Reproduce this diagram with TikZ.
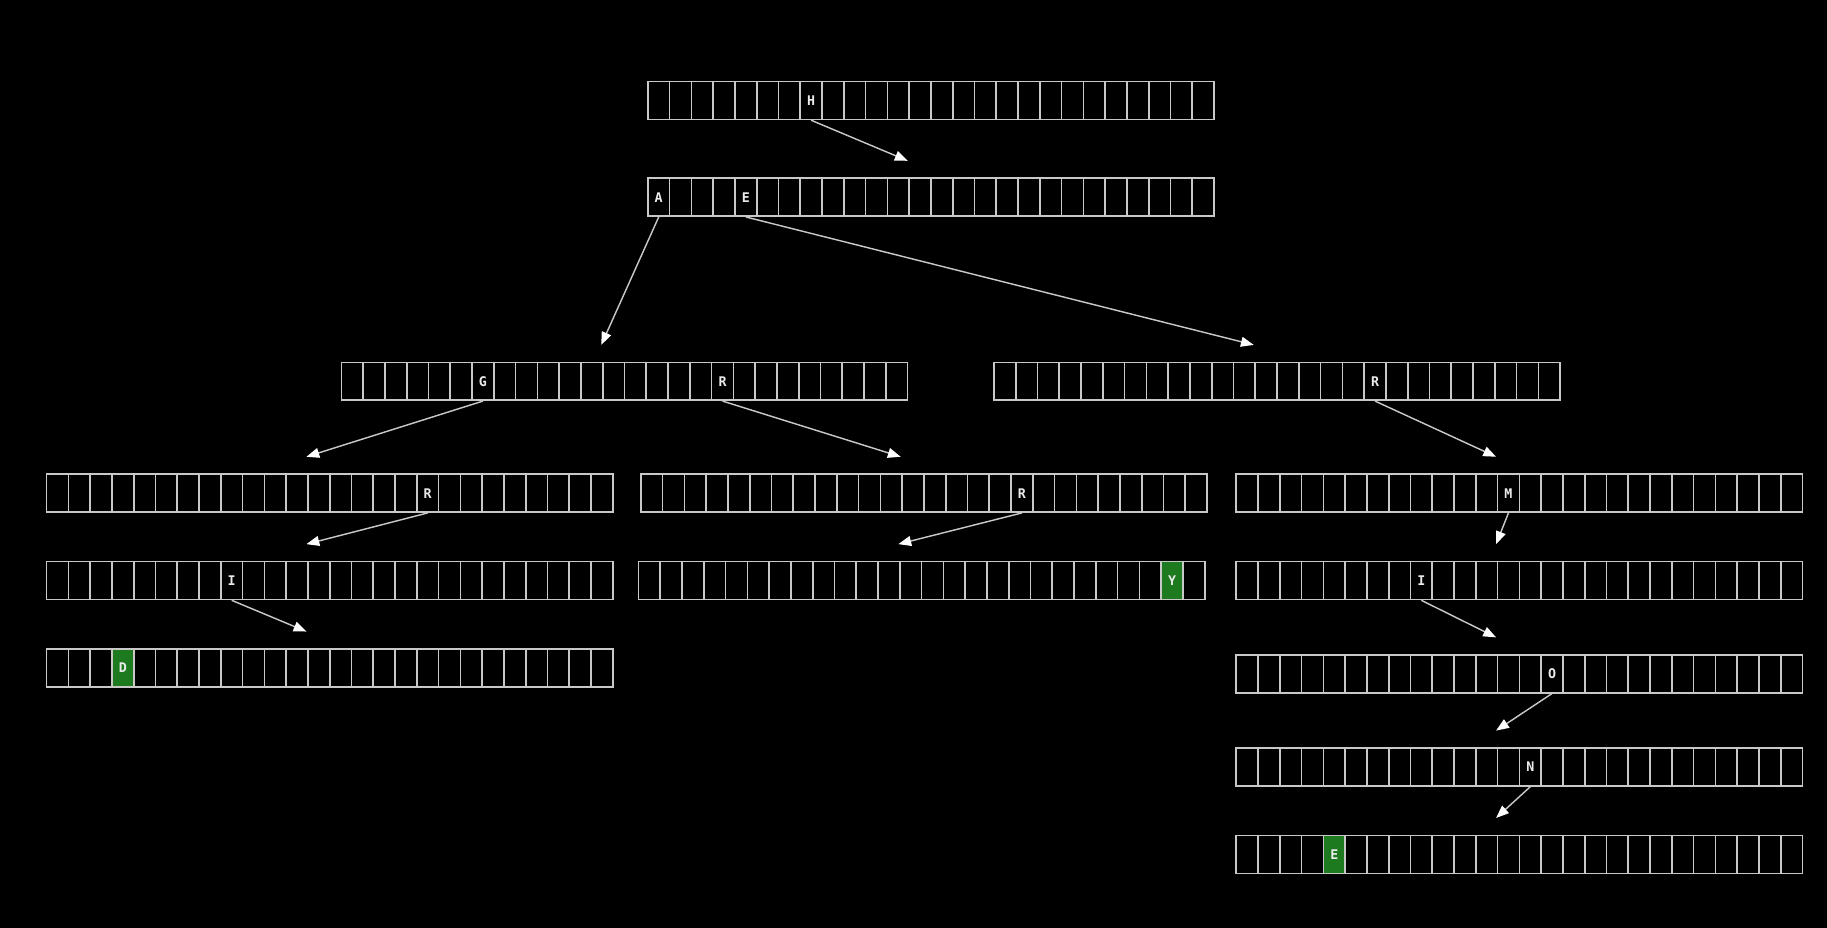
\documentclass[tikz,border=0pt]{standalone}
\usepackage{fontspec}
\newfontfamily\cellfont{DejaVu Sans Mono}
\usetikzlibrary{arrows.meta}
\definecolor{wire}{HTML}{C8C8C8}
\definecolor{found}{HTML}{1E7A1E}
\tikzstyle{trie}=[x=0.02cm, y=-0.02cm, font=\cellfont\bfseries\fontsize{6.5}{7}\selectfont]
\tikzstyle{slot}=[rectangle, inner sep=0pt, draw=wire, line width=0.8pt, minimum width=0.3738cm, minimum height=0.65cm]
\tikzstyle{letter}=[inner sep=0pt, text=white!92!black]
\tikzstyle{hit}=[slot, fill=found, text=white!92!black]
\tikzstyle{link}=[draw=wire, line width=0.7pt, -{Triangle[length=0.22cm, width=0.17cm, color=white]}]

% one row of 26 slots: name, left, top
\newcommand{\trierow}[3]{%
  \foreach \i in {0,...,25}
    \node[slot] (#1-\i) at ({#2+9.345+18.69*\i}, {#3+16.25}) {};
  \coordinate (#1-in) at ({#2+223}, {#3-15});
}

\begin{document}
\begin{tikzpicture}[trie]
	\fill[black] (0,0) rectangle (1568,796);
	
	%The rows
	\trierow{root}{556}{70}
	\trierow{h}{556}{153}
	\trierow{ha}{293}{311}
	\trierow{he}{853}{311}
	\trierow{hag}{40}{407}
	\trierow{har}{550}{407}
	\trierow{her}{1061}{407}
	\trierow{hagr}{40}{482}
	\trierow{harr}{548}{482}
	\trierow{herm}{1061}{482}
	\trierow{hagri}{40}{557}
	\trierow{hermi}{1061}{562}
	\trierow{hermio}{1061}{642}
	\trierow{hermion}{1061}{717}
	
	%The letters
	\node[letter] at (root-7) {H};
	\node[letter] at (h-0) {A};
	\node[letter] at (h-4) {E};
	\node[letter] at (ha-6) {G};
	\node[letter] at (ha-17) {R};
	\node[letter] at (he-17) {R};
	\node[letter] at (hag-17) {R};
	\node[letter] at (har-17) {R};
	\node[letter] at (her-12) {M};
	\node[letter] at (hagr-8) {I};
	\node[letter] at (herm-8) {I};
	\node[letter] at (hermi-14) {O};
	\node[letter] at (hermio-13) {N};
	
	%The word ends
	\node[hit] at (harr-24) {Y};
	\node[hit] at (hagri-3) {D};
	\node[hit] at (hermion-4) {E};
	
	%The links
	\draw[link] (root-7.south) -- (h-in);
	\draw[link] (h-0.south) -- (ha-in);
	\draw[link] (h-4.south) -- (he-in);
	\draw[link] (ha-6.south) -- (hag-in);
	\draw[link] (ha-17.south) -- (har-in);
	\draw[link] (he-17.south) -- (her-in);
	\draw[link] (hag-17.south) -- (hagr-in);
	\draw[link] (har-17.south) -- (harr-in);
	\draw[link] (her-12.south) -- (herm-in);
	\draw[link] (hagr-8.south) -- (hagri-in);
	\draw[link] (herm-8.south) -- (hermi-in);
	\draw[link] (hermi-14.south) -- (hermio-in);
	\draw[link] (hermio-13.south) -- (hermion-in);
\end{tikzpicture}
\end{document}
